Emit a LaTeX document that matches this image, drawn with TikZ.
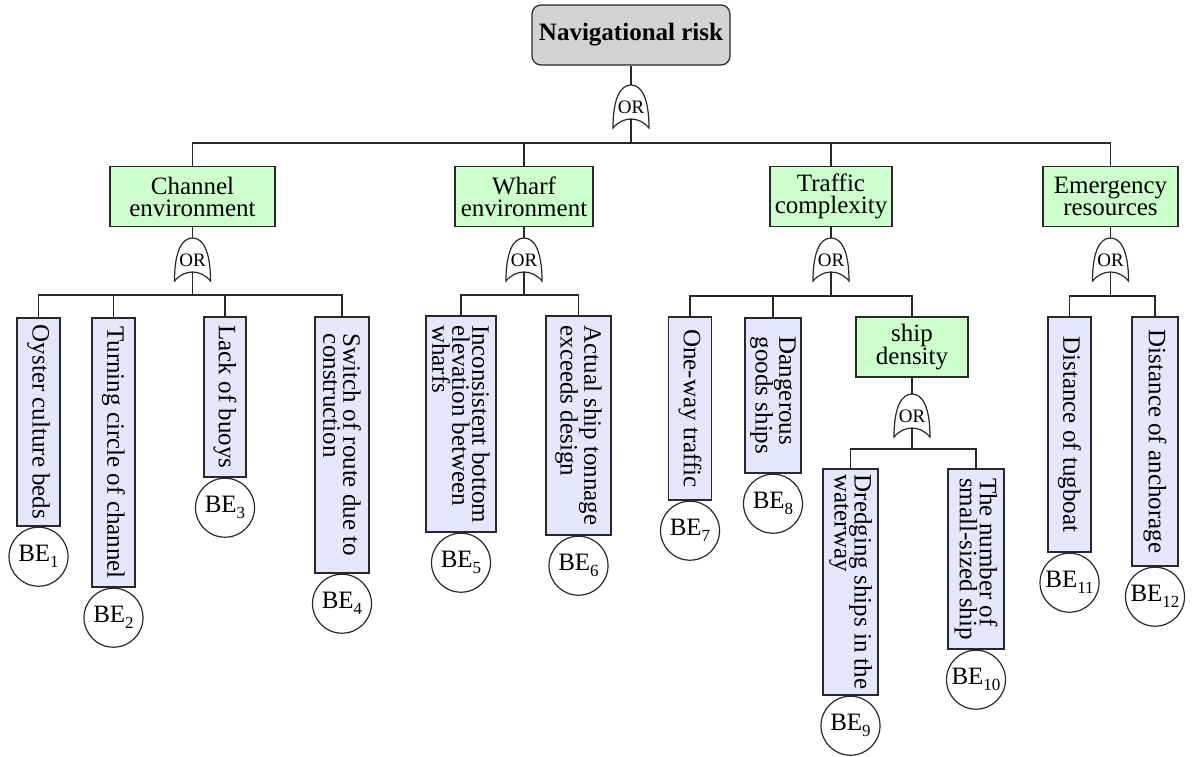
\documentclass[tikz,border=0pt]{standalone}
\usepackage{fontspec}
\setmainfont{Liberation Serif}
\definecolor{topgray}{RGB}{211,211,211}
\definecolor{midgreen}{RGB}{204,255,204}
\definecolor{leafblue}{RGB}{230,230,252}
\definecolor{edgegray}{RGB}{40,40,40}
\newcommand{\benum}[1]{BE\raisebox{-6pt}{\fontsize{17}{17}\selectfont #1}}
\tikzset{
  wire/.style={draw=edgegray, line width=1.2pt},
  topbox/.style={draw=edgegray, fill=topgray, line width=1.2pt, rounded corners=9pt,
    minimum width=198pt, minimum height=60pt, inner sep=0pt,
    font=\fontsize{25}{20}\selectfont\bfseries},
  midbox/.style={draw=edgegray, fill=midgreen, line width=1.2pt, inner sep=0pt,
    align=center, minimum height=60pt, font=\fontsize{25}{22}\selectfont},
  leafbox/.style={draw=edgegray, fill=leafblue, line width=1.2pt, inner sep=0pt,
    rotate=-90, align=left, font=\fontsize{25}{20}\selectfont},
  bebox/.style={circle, draw=edgegray, fill=white, line width=1.2pt, inner sep=0pt,
    minimum size=59pt, anchor=north, font=\fontsize{25}{25}\selectfont},
  gatelabel/.style={inner sep=0pt, font=\fontsize{19}{19}\selectfont},
  orgate/.pic={
    \draw[wire, fill=white] (0,0) .. controls (10,0) and (18,12) .. (18,43)
      .. controls (8,31) and (-8,31) .. (-18,43)
      .. controls (-18,12) and (-10,0) .. cycle;
    \coordinate (-in) at (0,0);
    \coordinate (-out) at (0,34);
    \node[gatelabel] (-lbl) at (0,22) {OR};
  }
}
\begin{document}
\begin{tikzpicture}[x=1pt, y=-1pt]
\useasboundingbox (0,0) rectangle (1194,756);

% top event
\node[topbox] (top) at (631,35) {Navigational risk};
\pic (g0) at (631,85) {orgate};
\coordinate (j0) at (631,143);

% intermediate events
\node[midbox, minimum width=165pt] (c1) at (192.5,196.5) {Channel\\environment};
\node[midbox, minimum width=138pt] (c2) at (524,196.5) {Wharf\\environment};
\node[midbox, minimum width=122pt] (c3) at (831,196.5) {Traffic\\complexity};
\node[midbox, minimum width=135pt] (c4) at (1110.5,196.5) {Emergency\\resources};

\pic (g1) at (192.5,238) {orgate};
\pic (g2) at (524,238) {orgate};
\pic (g3) at (831,238) {orgate};
\pic (g4) at (1110.5,238) {orgate};
\coordinate (j1) at (192.5,295);
\coordinate (j2) at (524,295);
\coordinate (j3) at (831,296);
\coordinate (j4) at (1110.5,296);

\node[midbox, minimum width=112pt] (d1) at (912,347) {ship\\density};
\pic (g5) at (912,394) {orgate};
\coordinate (j5) at (912,449);

% basic event descriptions
\node[leafbox, minimum width=208pt, minimum height=43pt] (b1) at (38.5,422) {Oyster culture beds};
\node[leafbox, minimum width=269pt, minimum height=43pt] (b2) at (113.5,452.5) {Turning circle of channel};
\node[leafbox, minimum width=160pt, minimum height=42pt] (b3) at (225,397) {Lack of buoys};
\node[leafbox, minimum width=256pt, minimum height=54pt] (b4) at (342,445) {Switch of route due to\\construction};
\node[leafbox, minimum width=216pt, minimum height=70pt] (b5) at (461,424) {Inconsistent bottom\\elevation between\\wharfs};
\node[leafbox, minimum width=219pt, minimum height=65pt] (b6) at (578.5,425.5) {Actual ship tonnage\\exceeds design};
\node[leafbox, minimum width=183pt, minimum height=43pt] (b7) at (690,408.5) {One-way traffic};
\node[leafbox, minimum width=155pt, minimum height=56pt] (b8) at (773,395.5) {Dangerous\\goods ships};
\node[leafbox, minimum width=226pt, minimum height=55pt] (b9) at (850.5,582) {Dredging ships in the\\waterway};
\node[leafbox, minimum width=180pt, minimum height=56pt] (b10) at (976,559) {The number of\\small-sized ship};
\node[leafbox, minimum width=235pt, minimum height=43pt] (b11) at (1069.5,434.5) {Distance of tugboat};
\node[leafbox, minimum width=249pt, minimum height=46pt] (b12) at (1155,441.5) {Distance of anchorage};

% basic events
\node[bebox] (e1) at (b1.east) {\benum{1}};
\node[bebox] (e2) at (b2.east) {\benum{2}};
\node[bebox] (e3) at (b3.east) {\benum{3}};
\node[bebox] (e4) at (b4.east) {\benum{4}};
\node[bebox] (e5) at (b5.east) {\benum{5}};
\node[bebox] (e6) at (b6.east) {\benum{6}};
\node[bebox] (e7) at (b7.east) {\benum{7}};
\node[bebox] (e8) at (b8.east) {\benum{8}};
\node[bebox] (e9) at (b9.east) {\benum{9}};
\node[bebox] (e10) at (b10.east) {\benum{10}};
\node[bebox] (e11) at (b11.east) {\benum{11}};
\node[bebox] (e12) at (b12.east) {\benum{12}};

% connectors
\draw[wire] (top) -- (g0-in);
\draw[wire] (g0-out) -- (j0);
\foreach \c in {c1,c2,c3,c4} \draw[wire] (j0) -| (\c);

\draw[wire] (c1) -- (g1-in);
\draw[wire] (c2) -- (g2-in);
\draw[wire] (c3) -- (g3-in);
\draw[wire] (c4) -- (g4-in);
\draw[wire] (d1) -- (g5-in);
\draw[wire] (g1-out) -- (j1);
\draw[wire] (g2-out) -- (j2);
\draw[wire] (g3-out) -- (j3);
\draw[wire] (g4-out) -- (j4);
\draw[wire] (g5-out) -- (j5);

\foreach \b in {b1,b2,b3,b4} \draw[wire] (j1) -| (\b);
\foreach \b in {b5,b6} \draw[wire] (j2) -| (\b);
\foreach \b in {b7,b8,d1} \draw[wire] (j3) -| (\b);
\foreach \b in {b11,b12} \draw[wire] (j4) -| (\b);
\foreach \b in {b9,b10} \draw[wire] (j5) -| (\b);
\end{tikzpicture}
\end{document}
